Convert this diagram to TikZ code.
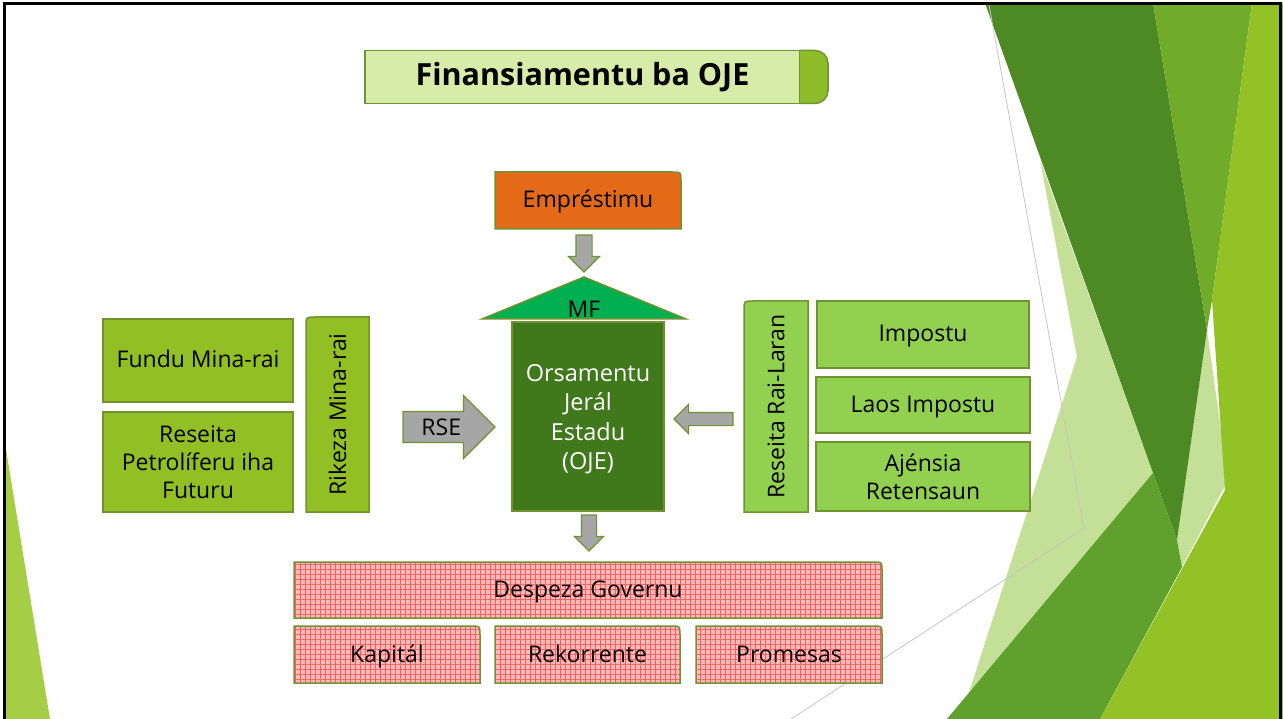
\documentclass[tikz,border=0pt]{standalone}
\usepackage{fontspec}
\setmainfont{Open Sans}
\usepackage{graphicx}
\usetikzlibrary{positioning, shapes.arrows, patterns.meta, backgrounds}
\pgfdeclarelayer{slide}
\pgfsetlayers{slide,background,main}

\definecolor{edgegreen}{RGB}{112,146,48}
\definecolor{titlefill}{RGB}{215,236,168}
\definecolor{tabgreen}{RGB}{141,190,42}
\definecolor{loanorange}{RGB}{229,106,24}
\definecolor{roofgreen}{RGB}{0,176,80}
\definecolor{ojegreen}{RGB}{64,120,28}
\definecolor{minegreen}{RGB}{146,192,36}
\definecolor{taxgreen}{RGB}{146,208,80}
\definecolor{spendpink}{RGB}{255,185,185}
\definecolor{spendgrid}{RGB}{245,95,95}
\definecolor{arrowgrey}{RGB}{166,166,166}
\definecolor{decodark}{RGB}{77,138,35}
\definecolor{decomid}{RGB}{112,172,42}
\definecolor{decomed}{RGB}{96,160,44}
\definecolor{decolime}{RGB}{146,194,38}
\definecolor{decopale}{RGB}{196,224,150}
\definecolor{decoleft}{RGB}{165,205,70}

% box with one rounded corner, drawn behind its node
\newcommand{\roundne}[2]{%
  \path[#2] (#1.south west) -- (#1.north west) -- ([xshift=-9pt]#1.north east)
    .. controls (#1.north east) .. ([yshift=-9pt]#1.north east) -- (#1.south east) -- cycle;}
\newcommand{\roundnw}[2]{%
  \path[#2] (#1.south east) -- (#1.north east) -- ([xshift=9pt]#1.north west)
    .. controls (#1.north west) .. ([yshift=-9pt]#1.north west) -- (#1.south west) -- cycle;}

\begin{document}
\begin{tikzpicture}[
         x=1pt, y=-1pt,
         txt/.style={font=\fontsize{23}{28}\selectfont},
         plate/.style={txt, align=center, inner sep=0pt, outer sep=0pt},
         oneline/.style={plate, text height=19pt, text depth=4pt},
         rim/.style={draw=edgegreen, line width=1.5pt},
         mine/.style={rim, fill=minegreen},
         tax/.style={rim, fill=taxgreen},
         spend/.style={rim, preaction={fill=spendpink},
            preaction={pattern={Hatch[distance=5pt, line width=0.5pt]}, pattern color=spendgrid}},
         flow/.style={single arrow, draw=edgegreen, line width=1.2pt, fill=arrowgrey, outer sep=0pt}
      ]
         \useasboundingbox (0,0) rectangle (1283,719);

         % Slide background
         \begin{pgfonlayer}{slide}
            \fill[white] (0,0) rectangle (1283,719);
            \fill[decopale] (1040,160) -- (1077,357) -- (965,705) -- (1153,473) -- cycle;
            \fill[decopale] (1207,330) -- (1228,480) -- (1182,567) -- (1177,540) -- cycle;
            \fill[decodark] (985,3) -- (1153,3) -- (1207,330) -- (1177,540) -- cycle;
            \fill[decomid] (1153,3) -- (1252,3) -- (1212,300) -- (1207,330) -- cycle;
            \fill[decomed] (947,719) -- (1153,473) -- (1177,540) -- (1182,567) -- (1100,719) -- cycle;
            \fill[decolime] (1252,3) -- (1283,3) -- (1283,719) -- (1100,719) -- (1225,490) -- (1212,300) -- cycle;
            \fill[decoleft] (5,443) -- (50,719) -- (5,719) -- cycle;
            \draw[gray!45, line width=0.8pt] (989,5) -- (1084,528) -- (791,719);
            \draw[black, line width=2.2pt] (4.5,3.5) rectangle (1280.5,725);
         \end{pgfonlayer}

         % Title
         \node[plate, rim, fill=titlefill, minimum width=435pt, minimum height=53pt,
               font=\fontsize{30.5}{34}\selectfont\bfseries] (title) at (582.5,77) {Finansiamentu ba OJE};
         \draw[rim, fill=tabgreen, rounded corners=13pt] (title.north east) -- ++(28,0) -- ++(0,53) -- (title.south east);

         % Loan, ministry and budget
         \node[oneline, minimum width=186pt, minimum height=57pt] (loan) at (588,200.5) {Empréstimu};
         \draw[rim, fill=roofgreen] (482,319) -- (584,277) -- (686,319) -- cycle;
         \node[plate] (mf) at (584,309.5) {MF};
         \node[plate, rim, fill=ojegreen, text=white, minimum width=152pt, minimum height=189pt,
               font=\fontsize{23.5}{29.5}\selectfont] (oje) at (588,416.5) {\rule{0pt}{22pt}Orsamentu\\Jerál\\Estadu\\(OJE)};

         % Mineral wealth
         \node[oneline, mine, minimum width=190pt, minimum height=83pt] (fundu) at (198,360.5) {Fundu Mina-rai};
         \node[plate, mine, minimum width=190pt, minimum height=100pt, below=10pt of fundu] (petro) {Reseita\\Petrolíferu iha\\Futuru};
         \node[plate, minimum width=63pt, minimum height=195pt] (rikeza) at (337.5,414.5) {\rotatebox{90}{Rikeza Mina-rai}};

         % Domestic revenue
         \node[plate, minimum width=64pt, minimum height=211pt] (railaran) at (776,406.5) {\rotatebox{90}{Reseita Rai-Laran}};
         \node[oneline, tax, minimum width=212pt, minimum height=67pt] (impostu) at (923,334.5) {Impostu};
         \node[oneline, tax, minimum width=214pt, minimum height=56pt, below=9pt of impostu] (laos) {Laos Impostu};
         \node[plate, tax, minimum width=214pt, minimum height=69pt, below=9pt of laos] (ajensia) {Ajénsia\\Retensaun};

         % Spending
         \node[oneline, minimum width=588pt, minimum height=56pt] (despeza) at (588,590) {Despeza Governu};
         \node[oneline, minimum width=186pt, minimum height=57pt] (kapital) at (387,654.5) {Kapitál};
         \node[oneline, minimum width=185pt, minimum height=57pt, right=15pt of kapital] (rekor) {Rekorrente};
         \node[oneline, minimum width=186pt, minimum height=57pt, right=16pt of rekor] (promesas) {Promesas};

         \begin{scope}[on background layer]
            \roundne{loan}{rim, fill=loanorange}
            \roundnw{rikeza}{mine}
            \roundnw{railaran}{tax}
            \foreach \n in {despeza, kapital, rekor, promesas} {\roundne{\n}{spend}}
         \end{scope}

         % Block arrows
         \node[flow, shape border rotate=270, minimum height=37pt, minimum width=30pt, inner sep=7.5pt,
               single arrow head extend=7.5pt, anchor=tail] (loanflow) at (584,235) {};
         \node[flow, shape border rotate=270, minimum height=36pt, minimum width=28pt, inner sep=7pt,
               single arrow head extend=7pt, anchor=tail] (spendflow) at (589,515) {};
         \node[flow, shape border rotate=180, minimum height=59pt, minimum width=28pt, inner sep=6pt,
               single arrow head extend=8pt, anchor=tip] (taxflow) at (674,419) {};
         \node[flow, txt, minimum height=92pt, minimum width=62pt, inner xsep=4pt, inner ysep=6.5pt,
               single arrow head extend=16pt, anchor=tail] (rse) at (403,427) {RSE};
      \end{tikzpicture}
\end{document}
